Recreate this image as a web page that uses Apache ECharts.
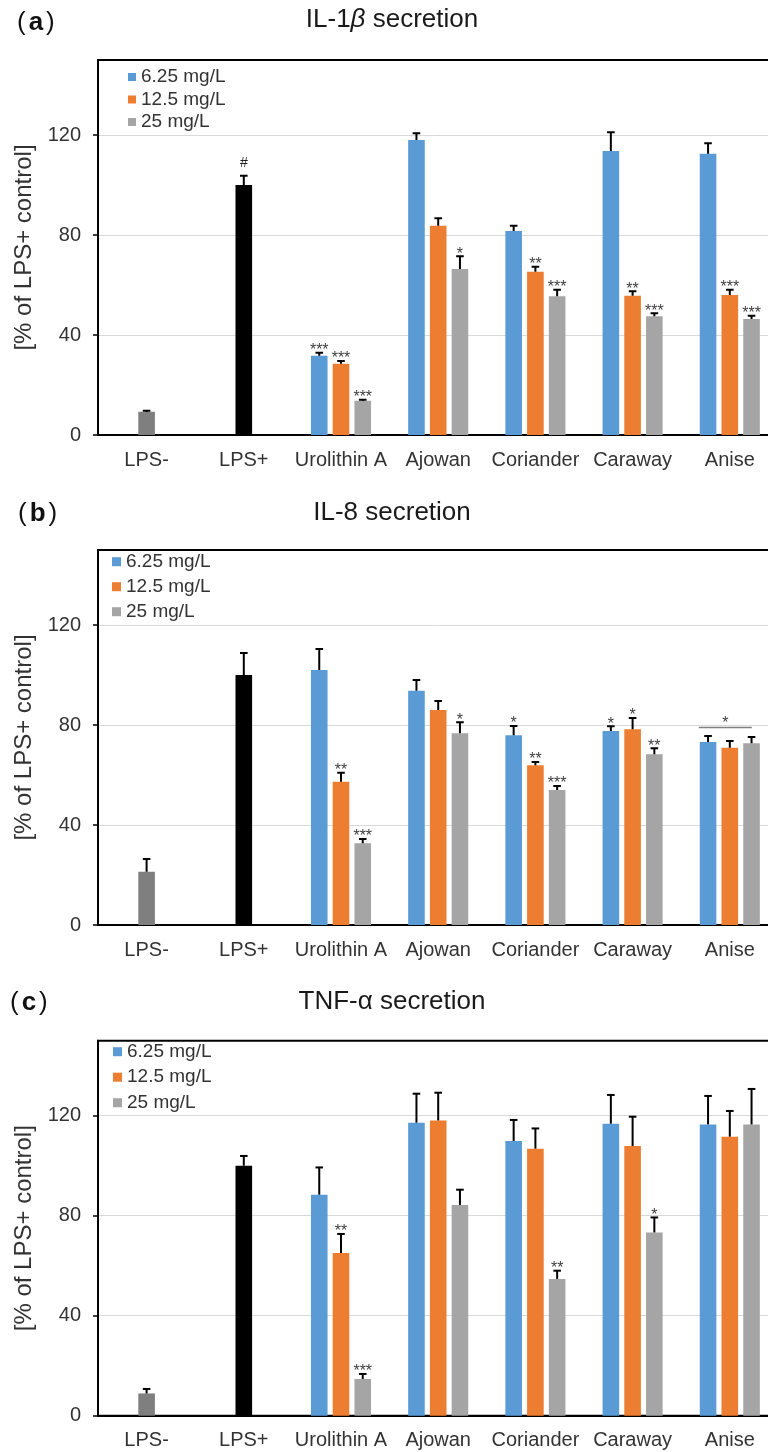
<!DOCTYPE html>
<html><head><meta charset="utf-8">
<script src="https://cdn.jsdelivr.net/npm/echarts@6/dist/echarts.min.js"></script>
<style>html,body{margin:0;padding:0;background:#fff}#c{width:768px;height:1452px}</style>
</head><body><div id="c"></div>
<script>
// ---------- data ----------
const categories = ['LPS-', 'LPS+', 'Urolithin A', 'Ajowan', 'Coriander', 'Caraway', 'Anise'];
const seriesNames = ['6.25 mg/L', '12.5 mg/L', '25 mg/L'];
const yTicks = [0, 40, 80, 120];
const yMax = 150;
const yAxisName = '[% of LPS+ control]';

// Panel (a) IL-1β
const ctrlA = [9.3, 100];
const ctrlErrA = [0.4, 3.7];
const ctrlStarA = ['', '#'];
const a625 = [null, null, 31.7, 118.0, 81.6, 113.6, 112.5];
const a625Err = [null, null, 1.2, 2.7, 2.1, 7.5, 4.2];
const a625Star = ['', '', '***', '', '', '', ''];
const a125 = [null, null, 28.5, 83.7, 65.3, 55.7, 56.0];
const a125Err = [null, null, 1.1, 3.0, 2.0, 1.8, 2.1];
const a125Star = ['', '', '***', '', '**', '**', '***'];
const a25 = [null, null, 13.7, 66.4, 55.5, 47.5, 46.4];
const a25Err = [null, null, 0.4, 5.1, 2.6, 1.2, 1.3];
const a25Star = ['', '', '***', '*', '***', '***', '***'];

// Panel (b) IL-8
const ctrlB = [21.3, 100];
const ctrlErrB = [5.1, 8.8];
const ctrlStarB = ['', ''];
const b625 = [null, null, 102.0, 93.7, 75.9, 77.6, 73.2];
const b625Err = [null, null, 8.4, 4.3, 3.7, 1.9, 2.4];
const b625Star = ['', '', '', '', '*', '*', ''];
const b125 = [null, null, 57.3, 86.0, 63.9, 78.3, 70.9];
const b125Err = [null, null, 3.6, 3.6, 1.3, 4.5, 2.7];
const b125Star = ['', '', '**', '', '**', '*', ''];
const b25 = [null, null, 32.7, 76.7, 54.0, 68.3, 72.7];
const b25Err = [null, null, 1.7, 4.4, 1.6, 2.4, 2.5];
const b25Star = ['', '', '***', '*', '***', '**', ''];
const bracketB = [{ category: 'Anise', value: 79, text: '*' }];

// Panel (c) TNF-α
const ctrlC = [8.9, 100];
const ctrlErrC = [1.8, 3.9];
const ctrlStarC = ['', ''];
const c625 = [null, null, 88.4, 117.2, 109.9, 116.8, 116.5];
const c625Err = [null, null, 10.9, 11.6, 8.4, 11.5, 11.4];
const c625Star = ['', '', '', '', '', '', ''];
const c125 = [null, null, 65.1, 118.1, 106.8, 107.9, 111.6];
const c125Err = [null, null, 7.6, 11.1, 8.1, 11.7, 10.3];
const c125Star = ['', '', '**', '', '', '', ''];
const c25 = [null, null, 14.7, 84.3, 54.7, 73.3, 116.5];
const c25Err = [null, null, 2.0, 6.1, 3.3, 6.0, 14.2];
const c25Star = ['', '', '***', '', '**', '*', ''];

// ---------- styles / layout ----------
const FONT = 'Liberation Sans, Arial, sans-serif';
const colors = ['#5B9BD5', '#ED7D31', '#A5A5A5'];
const ctrlColors = ['#7F7F7F', '#000000'];
const BAR_W = 16.6, BAR_GAP = 0.31;
const STEP = BAR_W * (1 + BAR_GAP);

const panels = [
  { tag: 'a', title: '{n|IL-1}{i|β}{n| secretion}', tagY: 23, titleY: 20, gridTop: 60,
    legend: { left: 128, top: 67, size: 8, gap: 2.5 },
    ctrl: ctrlA, ctrlErr: ctrlErrA, ctrlStar: ctrlStarA,
    vals: [a625, a125, a25], errs: [a625Err, a125Err, a25Err], stars: [a625Star, a125Star, a25Star], brackets: [] },
  { tag: 'b', title: '{n|IL-8 secretion}', tagY: 514, titleY: 513, gridTop: 550,
    legend: { left: 112, top: 551.7, size: 9, gap: 5 },
    ctrl: ctrlB, ctrlErr: ctrlErrB, ctrlStar: ctrlStarB,
    vals: [b625, b125, b25], errs: [b625Err, b125Err, b25Err], stars: [b625Star, b125Star, b25Star], brackets: bracketB },
  { tag: 'c', title: '{n|TNF-α secretion}', tagY: 1003, titleY: 1002, gridTop: 1040.7,
    legend: { left: 113, top: 1041.7, size: 9, gap: 5.5 },
    ctrl: ctrlC, ctrlErr: ctrlErrC, ctrlStar: ctrlStarC,
    vals: [c625, c125, c25], errs: [c625Err, c125Err, c25Err], stars: [c625Star, c125Star, c25Star], brackets: [] }
];
const tagX = [17, 18, 10];

const option = { animation: false, grid: [], xAxis: [], yAxis: [], legend: [], series: [], graphic: [] };

panels.forEach((p, k) => {
  option.grid.push({ left: 98, width: 680.4, top: p.gridTop, height: 375, show: true,
    outerBoundsMode: 'none', containLabel: false,
    borderColor: '#000', borderWidth: 2, backgroundColor: 'transparent' });
  option.xAxis.push({ type: 'category', gridIndex: k, data: categories,
    axisLine: { lineStyle: { color: '#000', width: 2 } }, axisTick: { show: false },
    axisLabel: { fontSize: 20, color: '#333', margin: 15, fontFamily: FONT, interval: 0 } });
  option.yAxis.push({ type: 'value', gridIndex: k, min: 0, max: yMax, interval: 40,
    name: yAxisName, nameLocation: 'middle', nameGap: 52, nameRotate: 90,
    nameTextStyle: { fontSize: 24, color: '#333', fontFamily: FONT },
    axisLine: { show: true, lineStyle: { color: '#000', width: 2 } },
    axisTick: { show: true, length: 5, customValues: yTicks, lineStyle: { color: '#000', width: 1.5 } },
    axisLabel: { customValues: yTicks, fontSize: 20, color: '#333', margin: 17, fontFamily: FONT },
    splitLine: { lineStyle: { color: '#D9D9D9', width: 1 } } });
  option.legend.push({ data: seriesNames, orient: 'vertical', left: p.legend.left, top: p.legend.top,
    padding: 0, itemWidth: p.legend.size, itemHeight: p.legend.size, itemGap: p.legend.gap,
    icon: 'rect', selectedMode: false,
    textStyle: { fontSize: 19, color: '#333', lineHeight: 20, fontFamily: FONT } });

  // bars
  const errItems = [];
  seriesNames.forEach((name, s) => {
    const data = categories.map((c, i) => {
      if (s === 1 && i < 2) {
        errItems.push({ s: 1, i, v: p.ctrl[i], e: p.ctrlErr[i], star: p.ctrlStar[i] });
        return { value: p.ctrl[i], itemStyle: { color: ctrlColors[i] } };
      }
      const v = p.vals[s][i];
      if (v == null) return '-';
      errItems.push({ s, i, v, e: p.errs[s][i], star: p.stars[s][i] });
      return v;
    });
    option.series.push({ type: 'bar', name, xAxisIndex: k, yAxisIndex: k, data,
      barWidth: BAR_W, barGap: (BAR_GAP * 100) + '%', itemStyle: { color: colors[s] } });
  });

  // error bars + significance marks
  option.series.push({
    type: 'custom', xAxisIndex: k, yAxisIndex: k, silent: true, z: 5,
    data: errItems.map(e => [e.i, e.v + e.e]),
    encode: { x: 0, y: 1 },
    renderItem: (params, api) => {
      const e = errItems[params.dataIndex];
      const cx = api.coord([e.i, 0])[0] + (e.s - 1) * STEP;
      const yTop = api.coord([e.i, e.v])[1];
      const yErr = api.coord([e.i, e.v + e.e])[1];
      const children = [
        { type: 'line', shape: { x1: cx, y1: yTop, x2: cx, y2: yErr }, style: { stroke: '#000', lineWidth: 2 } },
        { type: 'line', shape: { x1: cx - 3.8, y1: yErr, x2: cx + 3.8, y2: yErr }, style: { stroke: '#000', lineWidth: 2 } }
      ];
      if (e.star) {
        const isHash = e.star === '#';
        children.push({ type: 'text', style: { text: e.star, x: cx, y: yErr - (isHash ? 12.5 : 2),
          align: 'center', verticalAlign: 'middle', fontSize: isHash ? 14 : 16, fontFamily: FONT,
          fill: isHash ? '#222' : '#404040' } });
      }
      return { type: 'group', children };
    }
  });

  if (p.brackets.length) {
    option.series.push({
      type: 'custom', xAxisIndex: k, yAxisIndex: k, silent: true, z: 5,
      data: p.brackets.map(b => [categories.indexOf(b.category), b.value]),
      encode: { x: 0, y: 1 },
      renderItem: (params, api) => {
        const b = p.brackets[params.dataIndex];
        const pt = api.coord([api.value(0), api.value(1)]);
        const x1 = pt[0] - 31, x2 = pt[0] + 22;
        return { type: 'group', children: [
          { type: 'line', shape: { x1, y1: pt[1], x2, y2: pt[1] }, style: { stroke: '#808080', lineWidth: 1.5 } },
          { type: 'text', style: { text: b.text, x: (x1 + x2) / 2, y: pt[1] - 4, align: 'center',
            verticalAlign: 'middle', fontSize: 16, fontFamily: FONT, fill: '#404040' } }
        ] };
      }
    });
  }

  option.graphic.push({ type: 'text', x: tagX[k], y: p.tagY, silent: true,
    style: { text: '{p|(}{b|' + p.tag + '}{p|)}', align: 'left', verticalAlign: 'middle',
      rich: { p: { fontSize: 26, fontFamily: FONT, fill: '#111' },
              b: { fontSize: 26, fontFamily: FONT, fontWeight: 'bold', fill: '#111', padding: [0, 3, 0, 3] } } } });
  option.graphic.push({ type: 'text', x: 392, y: p.titleY, silent: true,
    style: { text: p.title, align: 'center', verticalAlign: 'middle',
      rich: { n: { fontSize: 26, fontFamily: FONT, fill: '#1a1a1a' },
              i: { fontSize: 26, fontFamily: FONT, fontStyle: 'italic', fill: '#1a1a1a' } } } });
});

const chart = echarts.init(document.getElementById('c'), null, { renderer: 'canvas' });
chart.setOption(option);
</script>
</body></html>
